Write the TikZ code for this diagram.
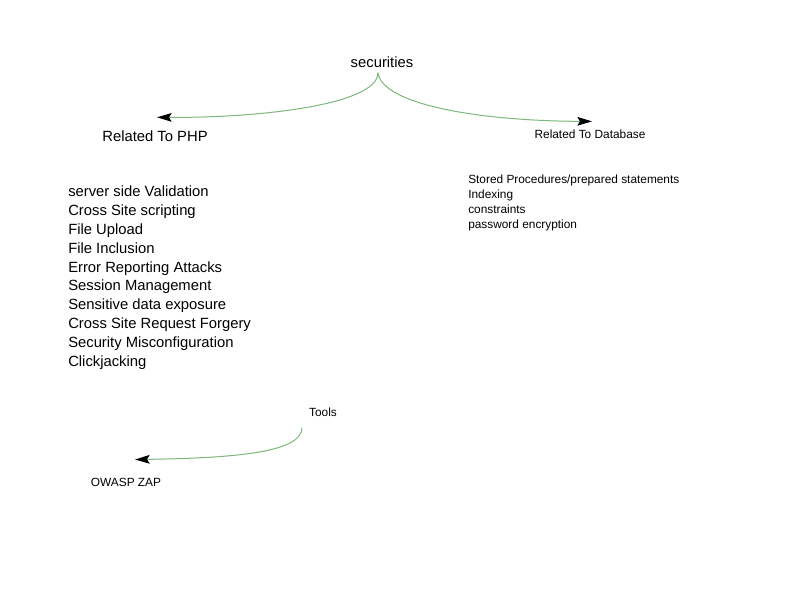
\documentclass[tikz,border=0pt]{standalone}
\usepackage{fontspec}
\setmainfont{Liberation Sans}
\usetikzlibrary{arrows.meta}
\definecolor{linkgreen}{RGB}{124,184,124}
\tikzset{
  big/.style={font=\fontsize{11.1}{14.1}\selectfont, inner sep=0pt},
  small/.style={font=\fontsize{8.9}{11.25}\selectfont, inner sep=0pt},
  link/.style={draw=linkgreen, line width=0.75pt,
    -{Stealth[black, length=11pt, width=6.5pt, inset=2pt]}}
}
\begin{document}
\begin{tikzpicture}[x=0.75pt, y=-0.75pt]
      \useasboundingbox[fill=white] (0,0) rectangle (800,600);
      \draw
        (382,62) node[big] (sec){securities}
        (155,136) node[big] (php){Related To PHP}
        (590,134) node[small] (db){Related To Database}
        (68,186) node[big, anchor=north west, align=left] (phplist){server side Validation\\Cross Site scripting\\File Upload\\File Inclusion\\Error Reporting Attacks\\Session Management\\Sensitive data exposure\\Cross Site Request Forgery\\Security Misconfiguration\\Clickjacking}
        (468,175) node[small, anchor=north west, align=left] (dblist){Stored Procedures/prepared statements\\Indexing\\constraints\\password encryption}
        (323,412) node[small] (tools){Tools}
        (126,482) node[small] (zap){OWASP ZAP};
      \begin{scope}[link]
        \draw ([shift={(-4,5)}]sec.south) .. controls +(0,32) and (260,118) .. ([shift={(2,-13)}]php.north);
        \draw ([shift={(-4,5)}]sec.south) .. controls +(4,32) and (480,121) .. ([shift={(2,-8)}]db.north);
        \draw ([shift={(-21,11)}]tools.south) .. controls +(0,24) and (240,458) .. ([shift={(9,-18)}]zap.north);
      \end{scope}
    \end{tikzpicture}
\end{document}
